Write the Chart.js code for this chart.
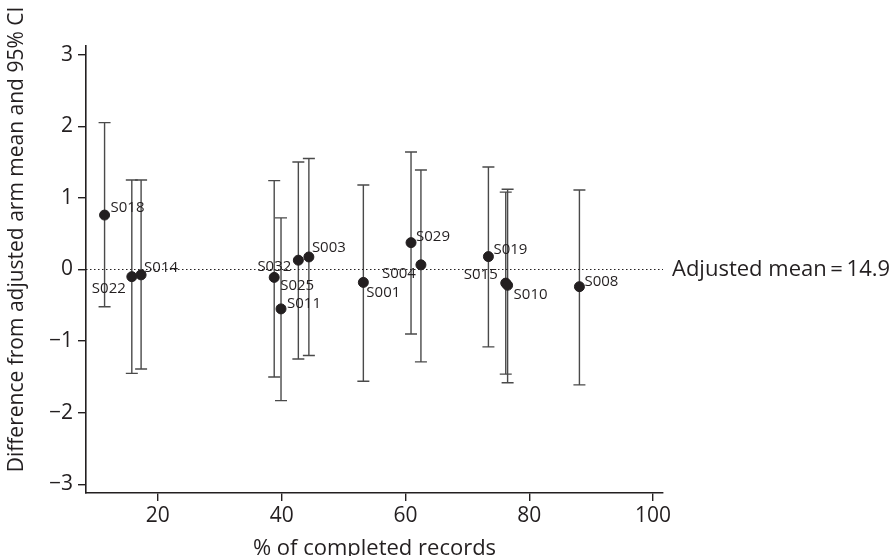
<!DOCTYPE html>
<html><head><meta charset="utf-8">
<script src="https://cdn.jsdelivr.net/npm/chart.js@4.4.1/dist/chart.umd.min.js"></script>
<style>html,body{margin:0;padding:0;background:#fff;}#wrap{width:896px;height:556px;}</style>
</head><body><div id="wrap"><canvas id="c" width="896" height="556"></canvas></div>
<script>
// ---- data ----
const siteLabels   = ['S018','S022','S014','S025','S011','S032','S003','S001','S029','S004','S019','S015','S010','S008'];
const completedPct = [11.4, 15.8, 17.3, 38.8, 39.9, 42.7, 44.4, 53.2, 60.9, 62.5, 73.4, 76.2, 76.5, 88.1];
const meanDiff     = [0.76, -0.10, -0.075, -0.11, -0.55, 0.13, 0.175, -0.18, 0.375, 0.065, 0.18, -0.19, -0.22, -0.24];
const ciLower      = [-0.52, -1.45, -1.39, -1.50, -1.83, -1.25, -1.20, -1.56, -0.90, -1.29, -1.08, -1.46, -1.58, -1.61];
const ciUpper      = [2.05, 1.25, 1.25, 1.24, 0.72, 1.50, 1.55, 1.18, 1.64, 1.39, 1.43, 1.08, 1.12, 1.11];
const xTickValues  = [20, 40, 60, 80, 100];
const yTickValues  = [-3, -2, -1, 0, 1, 2, 3];
const referenceValue = 0;
const adjustedMeanText = 'Adjusted mean\u2009=\u200914.9';
const xTitle = '% of completed records';
const yTitle = 'Difference from adjusted arm mean and 95% CI';

// ---- styling (label placement offsets in px, not data) ----
const labelOffsets = [[6,-7],[-6,12],[3,-7],[6,8],[6,-5],[-7,7],[3,-9],[3,10],[5,-6],[-5,9],[5,-7],[-8,-8],[6,9],[5,-5]];
const INK = '#231f20';
const BAR = '#4a4a4a';
const FONT = '"Open Sans", "Noto Sans", sans-serif';

const points = completedPct.map((x, i) => ({x, y: meanDiff[i]}));
const X_MIN = 8.4, X_MAX = 101.6, Y_MIN = -3.12, Y_MAX = 3.12;

const errorBarPlugin = {
  id: 'errorBars',
  beforeDatasetsDraw(chart) {
    const {ctx, scales: {x, y}} = chart;
    ctx.save();
    ctx.strokeStyle = BAR;
    ctx.lineWidth = 1.4;
    completedPct.forEach((v, i) => {
      const px = x.getPixelForValue(v);
      const top = y.getPixelForValue(ciUpper[i]);
      const bot = y.getPixelForValue(ciLower[i]);
      ctx.beginPath();
      ctx.moveTo(px, top); ctx.lineTo(px, bot);
      ctx.moveTo(px - 6, top); ctx.lineTo(px + 6, top);
      ctx.moveTo(px - 6, bot); ctx.lineTo(px + 6, bot);
      ctx.stroke();
    });
    ctx.restore();
  },
  afterDatasetsDraw(chart) {
    const {ctx, scales: {x, y}, chartArea} = chart;
    ctx.save();
    ctx.fillStyle = INK;
    ctx.font = '15px ' + FONT;
    ctx.textBaseline = 'middle';
    siteLabels.forEach((lab, i) => {
      const px = x.getPixelForValue(completedPct[i]);
      const py = y.getPixelForValue(meanDiff[i]);
      const [dx, dy] = labelOffsets[i];
      ctx.textAlign = dx < 0 ? 'right' : 'left';
      ctx.fillText(lab, px + dx, py + dy);
    });
    ctx.font = '22px ' + FONT;
    ctx.textAlign = 'left';
    ctx.fillText(adjustedMeanText, chartArea.right + 9, y.getPixelForValue(referenceValue));
    // y axis title (placed above centre as in the reference)
    ctx.save();
    ctx.translate(17, chartArea.top + (chartArea.bottom - chartArea.top) / 2 - 30);
    ctx.rotate(-Math.PI / 2);
    ctx.textAlign = 'center';
    ctx.font = '21px ' + FONT;
    ctx.fillText(yTitle, 0, 0);
    ctx.restore();
    ctx.restore();
  }
};

const fmt = v => String(v).replace('-', '\u2212');

new Chart(document.getElementById('c'), {
  type: 'scatter',
  data: {
    datasets: [
      {
        type: 'line',
        data: [{x: X_MIN, y: referenceValue}, {x: X_MAX, y: referenceValue}],
        borderColor: INK, borderWidth: 1, borderDash: [1.5, 2.5],
        pointRadius: 0, fill: false, order: 2
      },
      {
        data: points,
        backgroundColor: INK, borderColor: INK,
        pointRadius: 5, pointHoverRadius: 5, order: 1
      }
    ]
  },
  options: {
    responsive: false,
    animation: false,
    devicePixelRatio: 1,
    layout: {padding: {left: 0, top: 46, right: 233, bottom: 0}},
    plugins: {legend: {display: false}, tooltip: {enabled: false}},
    scales: {
      x: {
        type: 'linear', position: 'bottom', min: X_MIN, max: X_MAX,
        afterBuildTicks: s => { s.ticks = xTickValues.map(value => ({value})); },
        afterFit: s => { s.height = 63; },
        ticks: {color: INK, font: {family: FONT, size: 21}, padding: 2, maxRotation: 0, callback: v => fmt(v)},
        grid: {display: true, drawOnChartArea: false, drawTicks: true, tickLength: 8, color: INK, lineWidth: 1.4},
        border: {display: true, color: INK, width: 1.6},
        title: {display: true, text: xTitle, color: INK, font: {family: FONT, size: 22}, padding: {top: 0, bottom: -6}}
      },
      y: {
        type: 'linear', min: Y_MIN, max: Y_MAX,
        afterBuildTicks: s => { s.ticks = yTickValues.map(value => ({value})); },
        afterFit: s => { s.width = 86; },
        ticks: {color: INK, font: {family: FONT, size: 21}, padding: 5, callback: v => fmt(v)},
        grid: {display: true, drawOnChartArea: false, drawTicks: true, tickLength: 8, color: INK, lineWidth: 1.4},
        border: {display: true, color: INK, width: 1.6},
        title: {display: false}
      }
    }
  },
  plugins: [errorBarPlugin]
});
</script>
</body></html>
